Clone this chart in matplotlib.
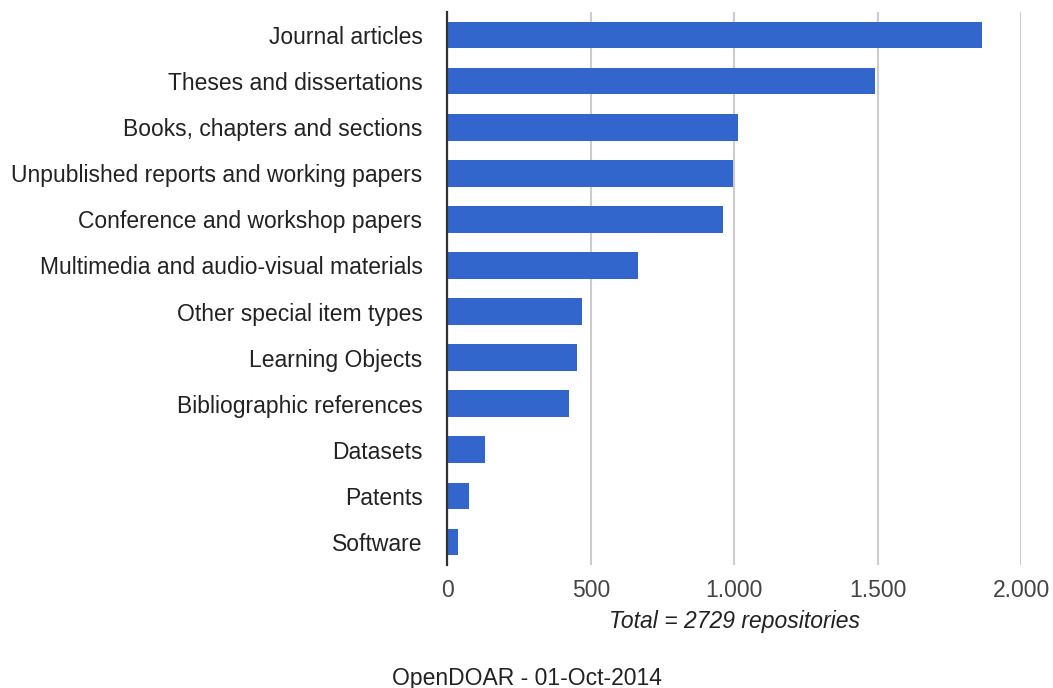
import matplotlib.pyplot as plt
from matplotlib.ticker import FuncFormatter

categories = [
    'Journal articles',
    'Theses and dissertations',
    'Books, chapters and sections',
    'Unpublished reports and working papers',
    'Conference and workshop papers',
    'Multimedia and audio-visual materials',
    'Other special item types',
    'Learning Objects',
    'Bibliographic references',
    'Datasets',
    'Patents',
    'Software',
]
counts = [1865, 1490, 1012, 995, 960, 665, 470, 452, 425, 130, 76, 37]
x_ticks = [0, 500, 1000, 1500, 2000]

W, H, DPI = 1053, 688, 100
plt.rcParams['font.family'] = ['Liberation Sans', 'DejaVu Sans']

fig = plt.figure(figsize=(W / DPI, H / DPI), dpi=DPI)
ax = fig.add_axes([447.4 / W, 1 - 565 / H, (1021 - 447.4) / W, (565 - 12) / H])

y = list(range(len(categories)))
ax.barh(y, counts, height=0.58, color='#3366cc', zorder=3)

ax.set_ylim(len(categories) - 0.5, -0.5)
ax.set_xlim(0, 2000)
ax.set_yticks(y)
ax.set_yticklabels(categories, fontsize=16.5, color='#222222')
ax.set_xticks(x_ticks)
ax.xaxis.set_major_formatter(FuncFormatter(lambda v, p: f'{int(v):,}'.replace(',', '.')))
ax.tick_params(axis='x', length=0, pad=10, labelsize=16.5, labelcolor='#444444')
ax.tick_params(axis='y', length=0, pad=18)

ax.grid(axis='x', color='#cccccc', linewidth=1.5, zorder=0)
for s in ['top', 'right', 'bottom']:
    ax.spines[s].set_visible(False)
ax.spines['left'].set_color('#333333')
ax.spines['left'].set_linewidth(1.6)
ax.spines['left'].set_zorder(4)

ax.set_xlabel('Total = 2729 repositories', fontsize=16.5, style='italic',
              color='#222222', labelpad=6)

fig.text(0.5, 1 - 678 / H, 'OpenDOAR - 01-Oct-2014', fontsize=16.5,
         color='#222222', ha='center', va='center')

fig.savefig('out.png', dpi=DPI)
